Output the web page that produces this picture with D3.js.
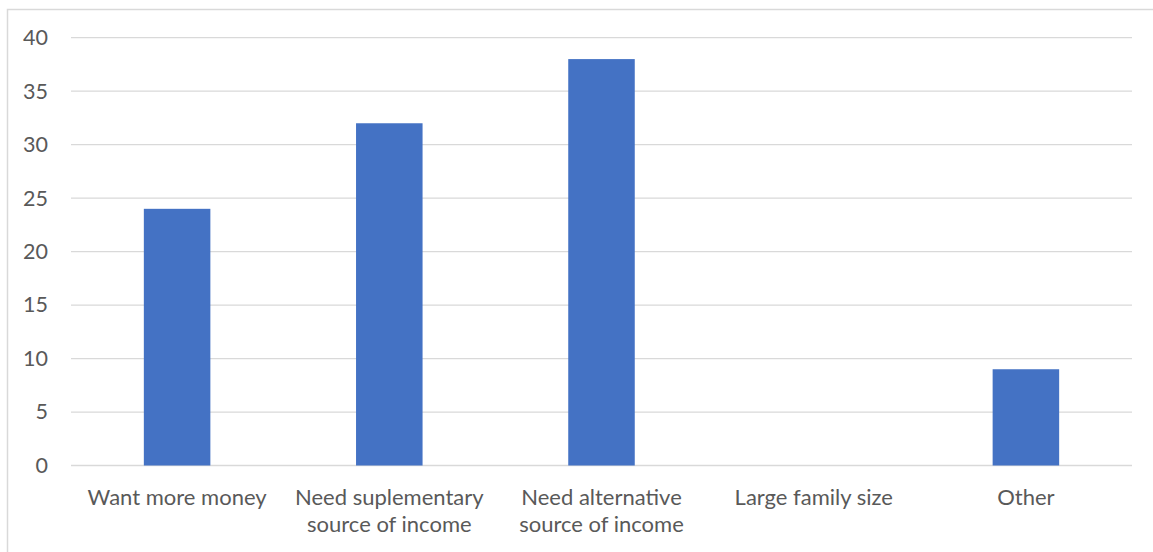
<!DOCTYPE html>
<html>
<head>
<meta charset="utf-8">
<script src="https://cdn.jsdelivr.net/npm/d3@7"></script>
<style>
  html, body { margin: 0; padding: 0; background: #fff; }
  svg { display: block; }
</style>
</head>
<body>
<svg id="chart" width="1153" height="552"></svg>
<script>
// Reasons given, with the count of respondents for each
const categories = [
  ["Want more money"],
  ["Need suplementary", "source of income"],
  ["Need alternative", "source of income"],
  ["Large family size"],
  ["Other"]
];
const values = [24, 32, 38, 0, 9];
const yTicks = [0, 5, 10, 15, 20, 25, 30, 35, 40];

const W = 1153, H = 552;
const plot = { left: 71, right: 1132, top: 37.7, bottom: 465.5 };
const font = "Lato, 'Open Sans', sans-serif";
const textColor = "#595959";

const svg = d3.select("#chart");

// outer chart frame
svg.append("rect")
  .attr("x", 7.5).attr("y", 9.5)
  .attr("width", W + 10).attr("height", H + 10)
  .attr("fill", "#fff")
  .attr("stroke", "#d9d9d9")
  .attr("stroke-width", 1.5);

const keys = categories.map(c => c.join(" "));

const x = d3.scaleBand()
  .domain(keys)
  .range([plot.left, plot.right])
  .paddingInner(0.6865)
  .paddingOuter(0.6865 / 2);

const y = d3.scaleLinear()
  .domain([0, 40])
  .range([plot.bottom, plot.top]);

// horizontal gridlines
svg.append("g")
  .selectAll("line")
  .data(yTicks)
  .join("line")
  .attr("x1", plot.left).attr("x2", plot.right)
  .attr("y1", d => y(d)).attr("y2", d => y(d))
  .attr("stroke", "#d9d9d9")
  .attr("stroke-width", 1.3);

// y axis labels
const yAxis = d3.axisLeft(y).tickValues(yTicks).tickSize(0).tickPadding(0);
const yg = svg.append("g")
  .attr("transform", `translate(${plot.left - 23},0)`)
  .call(yAxis);
yg.select(".domain").remove();
yg.selectAll("text")
  .attr("fill", textColor)
  .style("font-family", font)
  .style("font-size", "21.5px");

// bars
svg.append("g")
  .selectAll("rect")
  .data(values)
  .join("rect")
  .attr("x", (d, i) => x(keys[i]))
  .attr("width", x.bandwidth())
  .attr("y", d => y(d))
  .attr("height", d => y(0) - y(d))
  .attr("fill", "#4472c4");

// category labels (wrapped into lines)
const xAxis = d3.axisBottom(x).tickSize(0).tickPadding(0);
const xg = svg.append("g")
  .attr("transform", `translate(0,${plot.bottom})`)
  .call(xAxis);
xg.select(".domain").remove();
xg.selectAll(".tick text").each(function(d, i) {
  const t = d3.select(this);
  t.text(null)
    .attr("y", 0)
    .attr("dy", null)
    .attr("fill", textColor)
    .style("font-family", font)
    .style("font-size", "22px");
  categories[i].forEach((line, k) => {
    t.append("tspan")
      .attr("x", 0)
      .attr("y", 39 + k * 27)
      .text(line);
  });
});
</script>
</body>
</html>
